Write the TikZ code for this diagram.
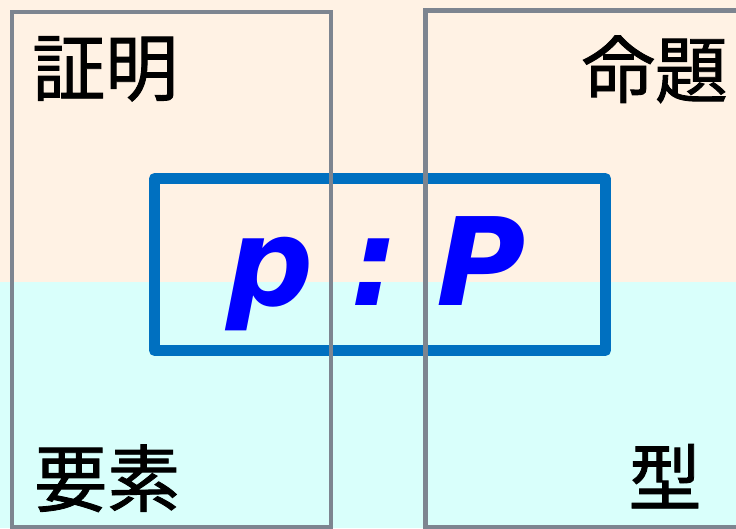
\documentclass[tikz,border=0pt]{standalone}
\usepackage{fontspec}
\newfontfamily\cjk[FakeBold=1.2]{Noto Sans CJK JP}
\newfontfamily\dvs{DejaVu Sans}
\definecolor{topbg}{HTML}{FFF2E4}
\definecolor{botbg}{HTML}{D9FFFB}
\definecolor{frame}{HTML}{7D8590}
\definecolor{boxblue}{HTML}{0070C0}
\tikzset{
  grayframe/.style={draw=frame, line width=4.5pt},
  bluebox/.style={draw=boxblue, line width=11pt, line join=round},
  jplabel/.style={inner sep=0pt, font=\cjk\fontsize{73}{73}\selectfont, text=black},
  formula/.style={inner sep=0pt, font=\dvs\bfseries\itshape\fontsize{122}{122}\selectfont, text=blue}
}
\begin{document}
\begin{tikzpicture}[x=1pt,y=-1pt]
\useasboundingbox (0,0) rectangle (736,528);
\fill[topbg] (0,0) rectangle (736,282);
\fill[botbg] (0,282) rectangle (736,528);
\draw[bluebox] (154.5,178.5) rectangle (605.5,350.5);
\draw[grayframe] (12,12) rectangle (331,527);
\draw[grayframe] (425.5,10.5) rectangle (760,527);
\node[formula, anchor=base] (pp) at (376,305) {p\hspace{37pt}:\hspace{37pt}P};
\node[jplabel, anchor=base west] (proof) at (32,95) {証明};
\node[jplabel, anchor=base east] (prop) at (728,97) {命題};
\node[jplabel, anchor=base west] (elem) at (34,506) {要素};
\node[jplabel, anchor=base] (type) at (665,505) {型};
\end{tikzpicture}
\end{document}
